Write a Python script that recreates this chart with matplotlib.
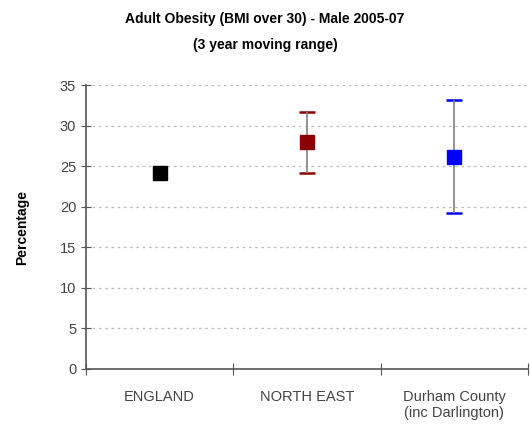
import matplotlib.pyplot as plt
import numpy as np

plt.rcParams["font.family"] = ["Liberation Sans", "DejaVu Sans"]

areas = ["ENGLAND", "NORTH EAST", "Durham County\n(inc Darlington)"]
values = [24.2, 28.0, 26.1]
lower = [24.0, 24.2, 19.2]
upper = [24.5, 31.7, 33.2]
colors = ["#000000", "#8b0000", "#0000ff"]

fig = plt.figure(figsize=(5.30, 4.32), dpi=100)
ax = fig.add_axes([0.162, 0.146, 0.834, 0.657])

x = np.arange(1, len(areas) + 1)
for xi, v, lo, hi, c in zip(x, values, lower, upper, colors):
    # narrow intervals get short caps so they sit inside the marker
    cap = 4 if hi - lo < 1 else 6
    line, caps, bars = ax.errorbar(
        xi, v, yerr=[[v - lo], [hi - v]], fmt="s", color=c, ms=10,
        ecolor="#808080", elinewidth=1.2, capsize=cap, capthick=1.8, zorder=3,
    )
    for cl in caps:
        cl.set_markeredgecolor(c)
        cl.set_zorder(2)
    line.set_zorder(4)

ax.set_xlim(0.5, len(areas) + 0.5)
ax.set_ylim(0, 35)
ax.set_yticks(np.arange(0, 36, 5))
ax.set_xticks(np.arange(0.5, len(areas) + 1, 1.0))
ax.set_xticklabels([])
ax.set_xticks(x, minor=True)
ax.set_xticklabels(areas, minor=True)
ax.tick_params(axis="x", which="minor", length=0, pad=15, labelsize=10.5)
ax.tick_params(axis="x", which="major", direction="inout", length=8, color="#555555")
ax.tick_params(axis="y", direction="inout", length=7, labelsize=10.5, labelcolor="#444444", color="#555555")
for lab in ax.get_xticklabels(minor=True):
    lab.set_color("#444444")

ax.grid(axis="y", linestyle=(0, (2, 3)), color="#bbbbbb", linewidth=0.9)
ax.set_axisbelow(True)
for side in ["top", "right"]:
    ax.spines[side].set_visible(False)
for side in ["left", "bottom"]:
    ax.spines[side].set_color("#555555")
    ax.spines[side].set_linewidth(1.2)

ax.set_ylabel("Percentage", fontsize=10, fontweight="bold", labelpad=22)
fig.text(0.5, 0.972, "Adult Obesity (BMI over 30) - Male 2005-07\n(3 year moving range)",
         ha="center", va="top", fontsize=10, fontweight="bold", linespacing=2.1)

fig.savefig("out.png", dpi=100)
